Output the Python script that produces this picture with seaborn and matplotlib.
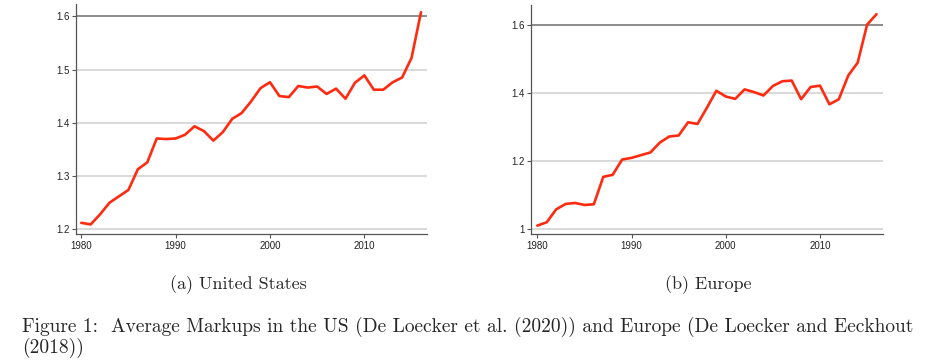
import matplotlib
matplotlib.use("Agg")
import matplotlib.pyplot as plt
import seaborn as sns
import pandas as pd

# ── Data ──────────────────────────────────────────────────────────────────────
years = list(range(1980, 2017))

us_markup = [1.211, 1.208, 1.227, 1.249, 1.261, 1.273, 1.312, 1.325, 1.370, 1.369,
             1.370, 1.377, 1.393, 1.384, 1.366, 1.382, 1.407, 1.418, 1.440, 1.465,
             1.476, 1.450, 1.448, 1.469, 1.466, 1.468, 1.454, 1.464, 1.445, 1.475,
             1.489, 1.462, 1.462, 1.476, 1.485, 1.522, 1.608]

eu_markup = [1.009, 1.019, 1.057, 1.073, 1.076, 1.070, 1.072, 1.153, 1.159, 1.204,
             1.209, 1.217, 1.225, 1.254, 1.272, 1.275, 1.314, 1.309, 1.357, 1.407,
             1.390, 1.383, 1.411, 1.403, 1.393, 1.421, 1.435, 1.437, 1.382, 1.418,
             1.422, 1.367, 1.382, 1.452, 1.490, 1.602, 1.633]

x_ticks = [1980, 1990, 2000, 2010]
us_yticks = [1.2, 1.3, 1.4, 1.5, 1.6]
us_ylabels = ["1.2", "1.3", "1.4", "1.5", "1.6"]
eu_yticks = [1.0, 1.2, 1.4, 1.6]
eu_ylabels = ["1", "1.2", "1.4", "1.6"]

sub_a = "(a) United States"
sub_b = "(b) Europe"
caption_1 = "Figure 1:  Average Markups in the US (De Loecker et al. (2020)) and Europe (De Loecker and Eeckhout"
caption_2 = "(2018))"

df = pd.DataFrame({"year": years, "us": us_markup, "eu": eu_markup})

# ── Figure ────────────────────────────────────────────────────────────────────
sns.set_style("white")
plt.rcParams["font.family"] = ["Liberation Sans", "DejaVu Sans"]

fig = plt.figure(figsize=(9.41, 3.62), dpi=100)
ax_us = fig.add_axes([0.0804, 0.3528, 0.3731, 0.6362])
ax_eu = fig.add_axes([0.5643, 0.3528, 0.3738, 0.6334])

panels = [
    (ax_us, "us", us_yticks, us_ylabels, (1979.41, 2016.61), (1.1894, 1.6236)),
    (ax_eu, "eu", eu_yticks, eu_ylabels, (1979.33, 2016.66), (0.9835, 1.66)),
]

for ax, col, yt, yl, xlim, ylim in panels:
    # horizontal grid lines, light gray, top one darker
    for v in yt:
        c = "#6e6e6e" if v == yt[-1] else "#cfcfcf"
        ax.axhline(v, color=c, lw=1.1, zorder=1)
    sns.lineplot(data=df, x="year", y=col, ax=ax, color="#ff2a10", lw=1.9, zorder=3)
    ax.set_xlim(*xlim)
    ax.set_ylim(*ylim)
    ax.set_xticks(x_ticks)
    ax.set_yticks(yt)
    ax.set_yticklabels(yl)
    ax.set_xlabel("")
    ax.set_ylabel("")
    for s in ["top", "right"]:
        ax.spines[s].set_visible(False)
    for s in ["left", "bottom"]:
        ax.spines[s].set_color("#555555")
        ax.spines[s].set_linewidth(0.9)
    ax.tick_params(axis="both", which="major", length=3, width=0.8, color="#555555",
                   labelsize=7, pad=1.5, labelcolor="#222222",
                   bottom=True, left=True, direction="out")

fig.text(238.5 / 941, 1 - 289.3 / 362, sub_a, family="cmr10", fontsize=13,
         ha="center", va="baseline")
fig.text(708 / 941, 1 - 289.3 / 362, sub_b, family="cmr10", fontsize=13,
         ha="center", va="baseline")
fig.text(21.7 / 941, 1 - 331.7 / 362, caption_1, family="cmr10", fontsize=14,
         ha="left", va="baseline")
fig.text(21.7 / 941, 1 - 352.5 / 362, caption_2, family="cmr10", fontsize=14,
         ha="left", va="baseline")

plt.savefig("out.png", dpi=100)
plt.close()
